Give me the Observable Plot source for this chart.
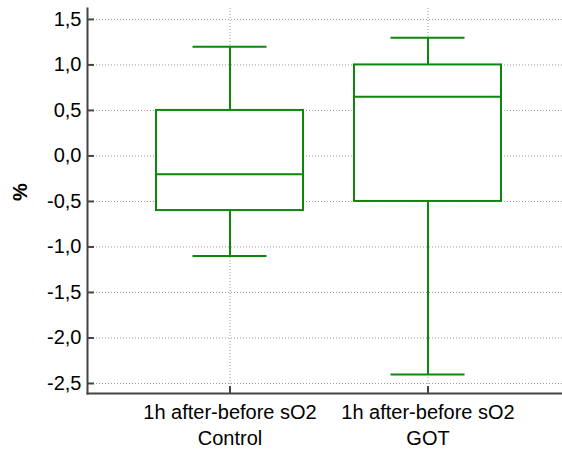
<!DOCTYPE html>
<html>
<head>
<meta charset="utf-8">
<script src="https://cdn.jsdelivr.net/npm/d3@7"></script>
<script src="https://cdn.jsdelivr.net/npm/@observablehq/plot@0.6"></script>
<style>
  html, body { margin: 0; padding: 0; background: #fff; }
  svg { display: block; }
</style>
</head>
<body>
<div id="chart"></div>
<script>
const categories = ["1h after-before sO2\nControl", "1h after-before sO2\nGOT"];
const whiskerLow = [-1.1, -2.4];
const q1 = [-0.6, -0.5];
const median = [-0.2, 0.65];
const q3 = [0.5, 1.0];
const whiskerHigh = [1.2, 1.3];
const yTicks = [-2.5, -2.0, -1.5, -1.0, -0.5, 0.0, 0.5, 1.0, 1.5];
const yLabel = "%";

const data = categories.map((c, i) => ({
  cat: c, lo: whiskerLow[i], q1: q1[i], med: median[i], q3: q3[i], hi: whiskerHigh[i]
}));

const green = "#0c870c";
const axisColor = "#444";
const fmt = d => d.toFixed(1).replace(".", ",");

const chart = Plot.plot({
  width: 562,
  height: 449,
  marginLeft: 87,
  marginRight: 0,
  marginTop: 8,
  marginBottom: 56,
  style: "font-family: 'Liberation Sans', Arial, sans-serif; font-size: 20px; color: #000; background: #fff;",
  x: { type: "band", domain: categories, paddingInner: 0.256, paddingOuter: 0.3216, align: 0.531, label: null },
  y: { domain: [-2.61, 1.62], label: null },
  marks: [
    Plot.gridY(yTicks, { stroke: "#999", strokeOpacity: 1, strokeWidth: 1, strokeDasharray: "1,2" }),
    Plot.gridX(categories, { stroke: "#999", strokeOpacity: 1, strokeWidth: 1, strokeDasharray: "1,2" }),
    Plot.ruleX(data, { x: "cat", y1: "lo", y2: "q1", stroke: green, strokeWidth: 2 }),
    Plot.ruleX(data, { x: "cat", y1: "q3", y2: "hi", stroke: green, strokeWidth: 2 }),
    Plot.barY(data, { x: "cat", y1: "q1", y2: "q3", fill: "white", stroke: green, strokeWidth: 2 }),
    Plot.tickY(data, { x: "cat", y: "med", stroke: green, strokeWidth: 2 }),
    Plot.tickY(data, { x: "cat", y: "lo", stroke: green, strokeWidth: 2, insetLeft: 36.5, insetRight: 36.5 }),
    Plot.tickY(data, { x: "cat", y: "hi", stroke: green, strokeWidth: 2, insetLeft: 36.5, insetRight: 36.5 }),
    Plot.axisY(yTicks, { tickSize: 0, tickPadding: 6, tickFormat: fmt, label: null, fill: "#000", fontSize: 20 }),
    Plot.axisY(yTicks, { tickSize: -7, tickFormat: () => "", label: null, stroke: axisColor, strokeWidth: 2 }),
    Plot.axisX({ tickSize: 0, tickPadding: 7, label: null, fill: "#000", fontSize: 20, lineHeight: 1.3 }),
    Plot.axisX({ tickSize: -7, tickFormat: () => "", label: null, stroke: axisColor, strokeWidth: 2 }),
    Plot.frame({ anchor: "left", stroke: axisColor, strokeWidth: 2 }),
    Plot.frame({ anchor: "bottom", stroke: axisColor, strokeWidth: 2 }),
    Plot.text([yLabel], { frameAnchor: "left", dx: -67, rotate: -90, fontWeight: "bold", fontSize: 20, fill: "#000" })
  ]
});
document.getElementById("chart").appendChild(chart);
</script>
</body>
</html>
